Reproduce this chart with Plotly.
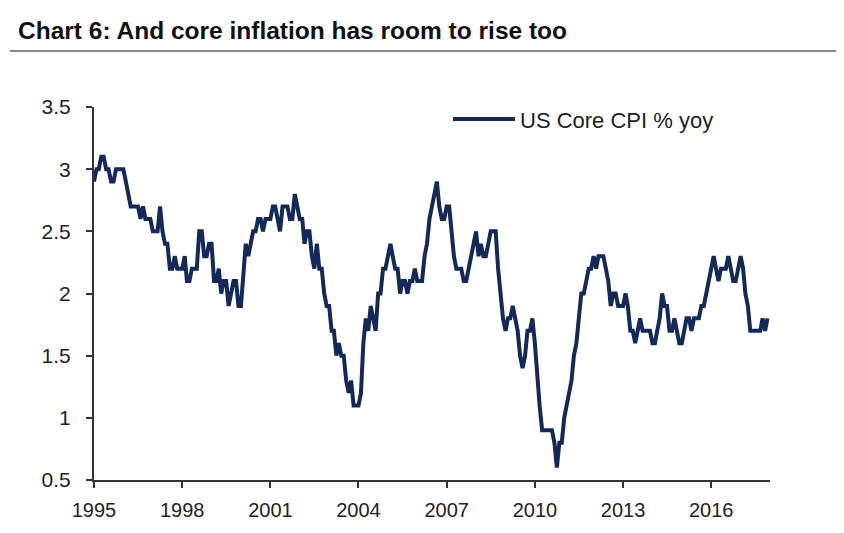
import pandas as pd
import plotly.graph_objects as go

# ---- data (US core CPI % yoy, monthly, Jan 1995 - Dec 2017) ----
series_name = "US Core CPI % yoy"
start_month = "1995-01-01"
core_cpi_yoy = [
    2.9, 3.0, 3.0, 3.1, 3.1, 3.0, 3.0, 2.9, 2.9, 3.0, 3.0, 3.0,  # 1995
    3.0, 2.9, 2.8, 2.7, 2.7, 2.7, 2.7, 2.6, 2.7, 2.6, 2.6, 2.6,  # 1996
    2.5, 2.5, 2.5, 2.7, 2.5, 2.4, 2.4, 2.2, 2.2, 2.3, 2.2, 2.2,  # 1997
    2.2, 2.3, 2.1, 2.1, 2.2, 2.2, 2.2, 2.5, 2.5, 2.3, 2.3, 2.4,  # 1998
    2.4, 2.1, 2.1, 2.2, 2.0, 2.1, 2.1, 1.9, 2.0, 2.1, 2.1, 1.9,  # 1999
    1.9, 2.2, 2.4, 2.3, 2.4, 2.5, 2.5, 2.6, 2.6, 2.5, 2.6, 2.6,  # 2000
    2.6, 2.7, 2.7, 2.6, 2.5, 2.7, 2.7, 2.7, 2.6, 2.6, 2.8, 2.7,  # 2001
    2.6, 2.6, 2.4, 2.5, 2.5, 2.3, 2.2, 2.4, 2.2, 2.2, 2.0, 1.9,  # 2002
    1.9, 1.7, 1.7, 1.5, 1.6, 1.5, 1.5, 1.3, 1.2, 1.3, 1.1, 1.1,  # 2003
    1.1, 1.2, 1.6, 1.8, 1.7, 1.9, 1.8, 1.7, 2.0, 2.0, 2.2, 2.2,  # 2004
    2.3, 2.4, 2.3, 2.2, 2.2, 2.0, 2.1, 2.1, 2.0, 2.1, 2.1, 2.2,  # 2005
    2.1, 2.1, 2.1, 2.3, 2.4, 2.6, 2.7, 2.8, 2.9, 2.7, 2.6, 2.6,  # 2006
    2.7, 2.7, 2.5, 2.3, 2.2, 2.2, 2.2, 2.1, 2.1, 2.2, 2.3, 2.4,  # 2007
    2.5, 2.3, 2.4, 2.3, 2.3, 2.4, 2.5, 2.5, 2.5, 2.2, 2.0, 1.8,  # 2008
    1.7, 1.8, 1.8, 1.9, 1.8, 1.7, 1.5, 1.4, 1.5, 1.7, 1.7, 1.8,  # 2009
    1.6, 1.3, 1.1, 0.9, 0.9, 0.9, 0.9, 0.9, 0.8, 0.6, 0.8, 0.8,  # 2010
    1.0, 1.1, 1.2, 1.3, 1.5, 1.6, 1.8, 2.0, 2.0, 2.1, 2.2, 2.2,  # 2011
    2.3, 2.2, 2.3, 2.3, 2.3, 2.2, 2.1, 1.9, 2.0, 2.0, 1.9, 1.9,  # 2012
    1.9, 2.0, 1.9, 1.7, 1.7, 1.6, 1.7, 1.8, 1.7, 1.7, 1.7, 1.7,  # 2013
    1.6, 1.6, 1.7, 1.8, 2.0, 1.9, 1.9, 1.7, 1.7, 1.8, 1.7, 1.6,  # 2014
    1.6, 1.7, 1.8, 1.8, 1.7, 1.8, 1.8, 1.8, 1.9, 1.9, 2.0, 2.1,  # 2015
    2.2, 2.3, 2.2, 2.1, 2.2, 2.2, 2.2, 2.3, 2.2, 2.1, 2.1, 2.2,  # 2016
    2.3, 2.2, 2.0, 1.9, 1.7, 1.7, 1.7, 1.7, 1.7, 1.8, 1.7, 1.8,  # 2017
]
x_tick_years = [1995, 1998, 2001, 2004, 2007, 2010, 2013, 2016]
y_tick_values = [0.5, 1, 1.5, 2, 2.5, 3, 3.5]
title_text = "Chart 6: And core inflation has room to rise too"

months = pd.date_range(start_month, periods=len(core_cpi_yoy), freq="MS")

LINE_COLOR = "#13295a"
AXIS_COLOR = "#333333"
TEXT_COLOR = "#222222"
FONT = "Liberation Sans, Arial, sans-serif"

# The page body has an 8px default margin, so the figure is drawn 8px smaller
# and everything is positioned in page pixels minus 8.
OFF = 8
W, H = 844 - OFF, 533 - OFF - 8

fig = go.Figure()
fig.add_trace(go.Scatter(
    x=months, y=core_cpi_yoy, mode="lines", name=series_name,
    line=dict(color=LINE_COLOR, width=4), showlegend=False,
))

# plot area (page px): x 94..770, y 107..480
fig.update_layout(
    width=W, height=H,
    margin=dict(l=94 - OFF, r=W - (770 - OFF), t=107 - OFF, b=H - (480 - OFF), autoexpand=False),
    paper_bgcolor="white", plot_bgcolor="white",
    font=dict(family=FONT, color=TEXT_COLOR, size=21),
    title=dict(
        text="<b>" + title_text + "</b>",
        x=(18 - OFF) / W, y=1 - (30 - OFF) / H, xanchor="left", yanchor="middle",
        font=dict(family=FONT, size=24.5, color="#111111"),
    ),
)

fig.update_xaxes(
    type="date",
    range=["1995-01-01", "2018-01-01"],
    tickvals=[f"{y}-01-01" for y in x_tick_years],
    ticktext=[str(y) for y in x_tick_years],
    showgrid=False, zeroline=False,
    showline=True, linecolor=AXIS_COLOR, linewidth=2,
    ticks="outside", ticklen=6, tickwidth=2, tickcolor=AXIS_COLOR,
    ticklabelstandoff=5,
    tickfont=dict(family=FONT, size=20, color=TEXT_COLOR),
)
fig.update_yaxes(
    range=[0.5, 3.5],
    tickvals=y_tick_values,
    ticktext=[f"{v:g}" for v in y_tick_values],
    showgrid=False, zeroline=False,
    showline=True, linecolor=AXIS_COLOR, linewidth=2,
    ticks="outside", ticklen=6, tickwidth=2, tickcolor=AXIS_COLOR,
    ticklabelstandoff=11,
    tickfont=dict(family=FONT, size=21, color=TEXT_COLOR),
)

def px_x(p):
    return (p - 94) / 676

def px_y(p):
    return (480 - p) / 373

# title underline
fig.add_shape(type="line", xref="paper", yref="paper",
              x0=px_x(10), x1=px_x(838), y0=px_y(51), y1=px_y(51),
              line=dict(color="#8a8a8a", width=2))

# faint page furniture at top right (table edge / page border)
GREY = "#d0d0d0"
fig.add_shape(type="line", xref="paper", yref="paper",
              x0=px_x(700), x1=px_x(838), y0=px_y(4), y1=px_y(4),
              line=dict(color=GREY, width=1))
for xv in (700, 735, 770, 805, 838):
    fig.add_shape(type="line", xref="paper", yref="paper",
                  x0=px_x(xv), x1=px_x(xv), y0=px_y(8), y1=px_y(4),
                  line=dict(color=GREY, width=1))
fig.add_shape(type="line", xref="paper", yref="paper",
              x0=px_x(840), x1=px_x(840), y0=px_y(8), y1=px_y(125),
              line=dict(color=GREY, width=1))

# manual legend
fig.add_shape(type="line", xref="paper", yref="paper",
              x0=px_x(453), x1=px_x(515), y0=px_y(119), y1=px_y(119),
              line=dict(color=LINE_COLOR, width=4))
fig.add_annotation(xref="paper", yref="paper", x=px_x(518), y=px_y(120),
                   text=series_name, showarrow=False, xanchor="left", yanchor="middle",
                   font=dict(family=FONT, size=22, color=TEXT_COLOR))

fig.write_html("out.html")
